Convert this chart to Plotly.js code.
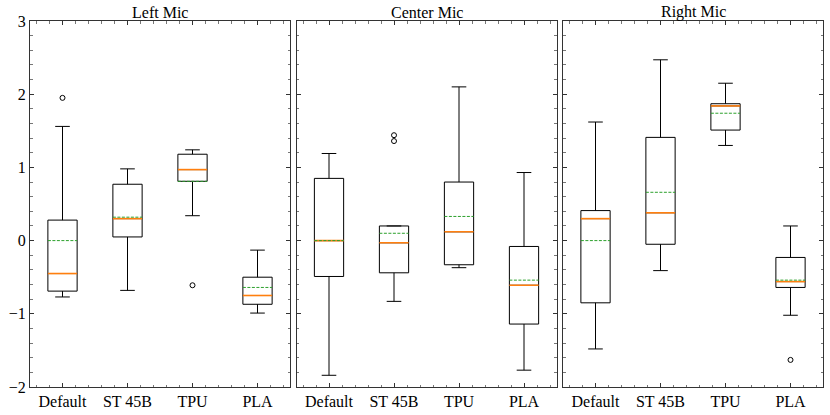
<!DOCTYPE html>
<html>
<head>
<meta charset="utf-8">
<script src="https://cdn.plot.ly/plotly-3.0.1.min.js"></script>
<style>html,body{margin:0;padding:0;background:#fff;}#chart{width:830px;height:415px;}</style>
</head>
<body>
<div id="chart"></div>
<script>
// ---- data (one row per panel, columns follow `categories`) ----
const categories = ['Default', 'ST 45B', 'TPU', 'PLA'];
const panels = ['Left Mic', 'Center Mic', 'Right Mic'];
const lowerWhisker = [[-0.77, -0.68, 0.34, -0.99], [-1.84, -0.83, -0.37, -1.77], [-1.48, -0.41, 1.30, -1.02]];
const q1 = [[-0.69, 0.05, 0.81, -0.87], [-0.49, -0.44, -0.33, -1.14], [-0.85, -0.05, 1.51, -0.64]];
const median = [[-0.45, 0.30, 0.97, -0.75], [0.00, -0.03, 0.12, -0.61], [0.30, 0.38, 1.84, -0.56]];
const q3 = [[0.28, 0.77, 1.18, -0.50], [0.85, 0.20, 0.80, -0.08], [0.41, 1.41, 1.87, -0.23]];
const upperWhisker = [[1.56, 0.98, 1.24, -0.13], [1.19, 0.20, 2.10, 0.93], [1.62, 2.47, 2.15, 0.20]];
const mean = [[0.00, 0.32, 0.81, -0.64], [0.00, 0.10, 0.33, -0.54], [0.00, 0.66, 1.74, -0.54]];
const outlierCategory = [['Default', 'TPU'], ['ST 45B', 'ST 45B'], ['PLA']];
const outlierValue = [[1.95, -0.61], [1.44, 1.36], [-1.63]];
const yTicks = [-2, -1, 0, 1, 2, 3];

// ---- styling ----
const FONT = 'Liberation Serif, Times New Roman, serif';
const BOX_W = 0.45;
const pos = categories.map((c, i) => i + 1);
const halfW = BOX_W / 2;

function segs(vals) {
  const xs = [], ys = [];
  vals.forEach((v, i) => { xs.push(pos[i] - halfW, pos[i] + halfW, null); ys.push(v, v, null); });
  return {xs, ys};
}

const traces = [];
const layout = {
  width: 830, height: 415,
  margin: {l: 30, r: 7, t: 21, b: 28, pad: 0},
  paper_bgcolor: '#fff', plot_bgcolor: '#fff',
  showlegend: false,
  font: {family: FONT, size: 16, color: '#000'},
  annotations: []
};
const totalW = 830 - 30 - 7;
const panelW = 260, gap = (totalW - 3 * panelW) / 2;

panels.forEach((name, p) => {
  const sx = p === 0 ? '' : String(p + 1);
  const xa = 'x' + sx, ya = 'y' + sx;
  traces.push({
    type: 'box', xaxis: xa, yaxis: ya,
    x: pos, q1: q1[p], median: median[p], q3: q3[p],
    lowerfence: lowerWhisker[p], upperfence: upperWhisker[p],
    width: BOX_W, whiskerwidth: 0.5,
    line: {color: '#000', width: 1}, fillcolor: 'rgba(255,255,255,0)',
    hoverinfo: 'skip'
  });
  const m = segs(median[p]);
  traces.push({type: 'scatter', mode: 'lines', xaxis: xa, yaxis: ya, x: m.xs, y: m.ys,
    line: {color: '#ff7f0e', width: 1.6}, hoverinfo: 'skip'});
  const mn = segs(mean[p]);
  traces.push({type: 'scatter', mode: 'lines', xaxis: xa, yaxis: ya, x: mn.xs, y: mn.ys,
    line: {color: '#2ca02c', width: 1, dash: '3px,1.5px'}, hoverinfo: 'skip'});
  traces.push({type: 'scatter', mode: 'markers', xaxis: xa, yaxis: ya,
    x: outlierCategory[p].map(c => categories.indexOf(c) + 1), y: outlierValue[p],
    marker: {symbol: 'circle-open', size: 5, color: '#000', line: {width: 1}}, hoverinfo: 'skip'});

  const d0 = p * (panelW + gap) / totalW, d1 = (p * (panelW + gap) + panelW) / totalW;
  layout['xaxis' + sx] = {
    domain: [d0, Math.min(1, d1)], anchor: ya, range: [0.5, 4.5],
    tickmode: 'array', tickvals: pos, ticktext: categories,
    ticks: 'inside', ticklen: 4, tickwidth: 1, tickcolor: '#333',
    minor: {tickmode: 'linear', tick0: 0, dtick: 0.2, ticks: 'inside', ticklen: 2.5, tickcolor: '#555', tickwidth: 0.8},
    showline: true, linecolor: '#333', linewidth: 1, mirror: 'allticks',
    showgrid: false, zeroline: false, fixedrange: true,
    tickfont: {family: FONT, size: 16, color: '#000'}
  };
  layout['yaxis' + sx] = {
    anchor: xa, range: [-2, 3], matches: p === 0 ? undefined : 'y',
    tickmode: 'array', tickvals: yTicks, showticklabels: p === 0,
    ticks: 'inside', ticklen: 4, tickwidth: 1, tickcolor: '#333',
    minor: {tickmode: 'linear', tick0: 0, dtick: 0.2, ticks: 'inside', ticklen: 2.5, tickcolor: '#555', tickwidth: 0.8},
    showline: true, linecolor: '#333', linewidth: 1, mirror: 'allticks',
    showgrid: false, zeroline: false, fixedrange: true,
    tickfont: {family: FONT, size: 16, color: '#000'}
  };
  layout.annotations.push({
    text: name, xref: 'paper', yref: 'paper', x: (d0 + Math.min(1, d1)) / 2, y: 1,
    xanchor: 'center', yanchor: 'bottom', yshift: -2, showarrow: false,
    font: {family: FONT, size: 16, color: '#000'}
  });
});

Plotly.newPlot('chart', traces, layout, {displayModeBar: false, staticPlot: true});
</script>
</body>
</html>
